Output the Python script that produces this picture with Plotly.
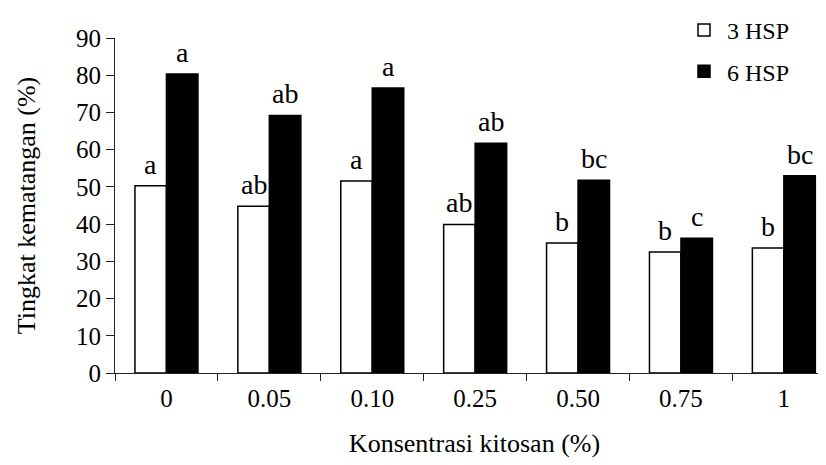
import plotly.graph_objects as go

categories = ["0", "0.05", "0.10", "0.25", "0.50", "0.75", "1"]
hsp3 = [50.3, 44.8, 51.6, 39.9, 34.9, 32.5, 33.6]
hsp6 = [80.3, 69.2, 76.6, 61.7, 51.8, 36.2, 53.0]
letters3 = ["a", "ab", "a", "ab", "b", "b", "b"]
letters6 = ["a", "ab", "a", "ab", "bc", "c", "bc"]
y_ticks = [0, 10, 20, 30, 40, 50, 60, 70, 80, 90]

FONT = "Liberation Serif, Times New Roman, serif"
W, H = 826, 465
ML, MR, MT, MB = 107, 0, 30, 99.5
cat_px = 102.9
plot_w = W - ML - MR
x_hi = -0.5 + plot_w / cat_px
bar_px = 31.5

fig = go.Figure()
fig.add_trace(go.Bar(
    x=categories, y=hsp3, name="3 HSP", legendgroup="g1",
    marker=dict(color="white", line=dict(color="black", width=1.5)),
))
fig.add_trace(go.Bar(
    x=categories, y=hsp6, name="6 HSP", legendgroup="g2",
    marker=dict(color="black", line=dict(color="black", width=1.5)),
))

annotations = []
for i, (v, t) in enumerate(zip(hsp3, letters3)):
    annotations.append(dict(x=i, y=v, text=t, showarrow=False, xref="x", yref="y",
                            yanchor="bottom", xshift=-bar_px / 2, yshift=4,
                            font=dict(family=FONT, size=28, color="black")))
for i, (v, t) in enumerate(zip(hsp6, letters6)):
    annotations.append(dict(x=i, y=v, text=t, showarrow=False, xref="x", yref="y",
                            yanchor="bottom", xshift=bar_px / 2, yshift=4,
                            font=dict(family=FONT, size=28, color="black")))

fig.update_layout(
    width=W, height=H,
    margin=dict(l=ML, r=MR, t=MT, b=MB, pad=0, autoexpand=False),
    paper_bgcolor="white", plot_bgcolor="white",
    barmode="group", bargap=0.388, bargroupgap=0,
    font=dict(family=FONT, size=24, color="black"),
    showlegend=True,
    legend=dict(x=673 / W, y=1 + 3 / H, xref="container", yref="container",
                xanchor="left", yanchor="top", traceorder="grouped",
                tracegroupgap=7, itemwidth=36,
                font=dict(family=FONT, size=24, color="black"),
                bgcolor="rgba(0,0,0,0)"),
    annotations=annotations,
)
fig.update_xaxes(
    range=[-0.5, x_hi], showline=True, linecolor="#222", linewidth=1,
    ticks="outside", tickson="boundaries", ticklen=7, tickcolor="#222",
    showgrid=False, zeroline=False, automargin=False, ticklabelstandoff=3,
    tickfont=dict(family=FONT, size=25),
    title=dict(text="Konsentrasi kitosan (%)", font=dict(family=FONT, size=26), standoff=22),
)
fig.update_yaxes(
    range=[0, 90], tickvals=y_ticks, showline=True, linecolor="#222", linewidth=1,
    ticks="outside", ticklen=8, tickcolor="#222", showgrid=False, zeroline=False,
    automargin=False,
    tickfont=dict(family=FONT, size=25),
    title=dict(text="Tingkat kematangan (%)", font=dict(family=FONT, size=26), standoff=32),
)
fig.write_html("out.html")
